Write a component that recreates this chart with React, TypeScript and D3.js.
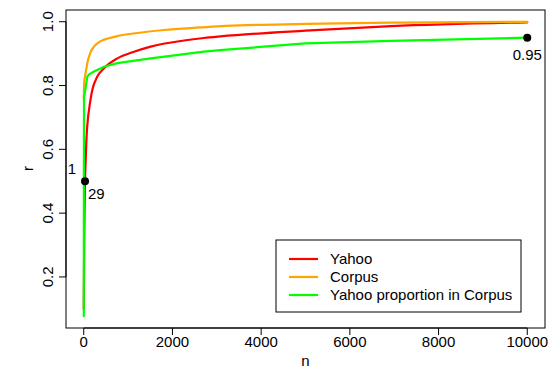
import * as d3 from 'd3'

// r against n for the three series
const nYahoo = [1, 10, 29, 45, 60, 97, 118, 193, 306, 457, 757, 1134, 1510, 2260, 2711, 3080, 5000, 6930, 10000]
const rYahoo = [0.1, 0.3, 0.5, 0.57, 0.628, 0.7, 0.723, 0.786, 0.828, 0.854, 0.885, 0.906, 0.922, 0.941, 0.949, 0.954, 0.972, 0.986, 0.998]

const nCorpus = [1, 10, 43, 97, 156, 250, 382, 560, 757, 1116, 1810, 2626, 3200, 5000, 6930, 10000]
const rCorpus = [0.756, 0.81, 0.84, 0.88, 0.905, 0.925, 0.939, 0.948, 0.955, 0.963, 0.974, 0.982, 0.987, 0.993, 0.997, 0.9996]

const nProp = [1, 3, 6, 23, 45, 80, 120, 231, 457, 757, 1510, 2711, 3080, 5000, 6930, 10000]
const rProp = [0.077, 0.5, 0.765, 0.775, 0.795, 0.828, 0.835, 0.844, 0.859, 0.87, 0.885, 0.906, 0.911, 0.932, 0.94, 0.95]

const seriesNames = ['Yahoo', 'Corpus', 'Yahoo proportion in Corpus']
const seriesColors = ['#ff0000', '#ffa500', '#00ff00']

const xTicks = [0, 2000, 4000, 6000, 8000, 10000]
const yTicks = [0.2, 0.4, 0.6, 0.8, 1.0]

// marked points and their labels
const markN = [29, 10000]
const markR = [0.5, 0.95]

const W = 549
const H = 368
const font = 'Liberation Sans, Arial, Helvetica, sans-serif'
const fs = 15

export default function App() {
  const x = d3.scaleLinear().domain([-400, 10400]).range([66, 545])
  const y = d3.scaleLinear().domain([0.04, 1.0367]).range([328, 10])

  const series = [
    nYahoo.map((n, i) => [n, rYahoo[i]]),
    nCorpus.map((n, i) => [n, rCorpus[i]]),
    nProp.map((n, i) => [n, rProp[i]]),
  ]
  const smooth = d3.line<number[]>()
    .x(d => x(d[0]))
    .y(d => y(d[1]))
    .curve(d3.curveMonotoneX)
  const straight = d3.line<number[]>()
    .x(d => x(d[0]))
    .y(d => y(d[1]))

  const legX = 276
  const legY = 240
  const legRow = 18

  return (
    <div style={{ position: 'fixed', left: 0, top: 0 }}>
      <svg width={W} height={H} style={{ display: 'block', background: '#fff' }} fontFamily={font} fontSize={fs}>
        {series.map((s, i) => (
          <path key={i} d={(i < 2 ? smooth(s) : straight(s)) || ''} fill="none" stroke={seriesColors[i]}
            strokeWidth={2.2} strokeLinejoin="round" strokeLinecap="round" />
        ))}

        {/* frame */}
        <rect x={66} y={10} width={479} height={318} fill="none" stroke="#000" strokeWidth={1} />

        {/* x axis */}
        <line x1={x(0)} x2={x(10000)} y1={328} y2={328} stroke="#000" />
        {xTicks.map(t => (
          <g key={t} transform={`translate(${x(t)},328)`}>
            <line y2={7} stroke="#000" />
            <text y={19} textAnchor="middle">{t}</text>
          </g>
        ))}
        <text x={(66 + 545) / 2} y={366} textAnchor="middle">n</text>

        {/* y axis */}
        <line x1={66} x2={66} y1={y(0.2)} y2={y(1.0)} stroke="#000" />
        {yTicks.map(t => (
          <g key={t} transform={`translate(66,${y(t)})`}>
            <line x2={-7} stroke="#000" />
            <text transform="translate(-13,0) rotate(-90)" textAnchor="middle">{t.toFixed(1)}</text>
          </g>
        ))}
        <text transform={`translate(33,${y(0.54)}) rotate(-90)`} textAnchor="middle">r</text>

        {/* marked points */}
        {markN.map((n, i) => (
          <circle key={i} cx={x(n)} cy={y(markR[i])} r={4} fill="#000" />
        ))}
        <text x={x(markN[0]) - 9} y={y(markR[0]) - 7} textAnchor="end">1</text>
        <text x={x(markN[0]) + 3} y={y(markR[0]) + 18} textAnchor="start">29</text>
        <text x={x(markN[1])} y={y(markR[1]) + 22} textAnchor="middle">{markR[1].toFixed(2)}</text>

        {/* legend */}
        <rect x={legX} y={legY} width={245} height={72} fill="#fff" stroke="#000" />
        {seriesNames.map((name, i) => (
          <g key={name} transform={`translate(${legX},${legY + 19 + i * legRow})`}>
            <line x1={13} x2={42} stroke={seriesColors[i]} strokeWidth={2.2} />
            <text x={54} y={5}>{name}</text>
          </g>
        ))}
      </svg>
    </div>
  )
}
